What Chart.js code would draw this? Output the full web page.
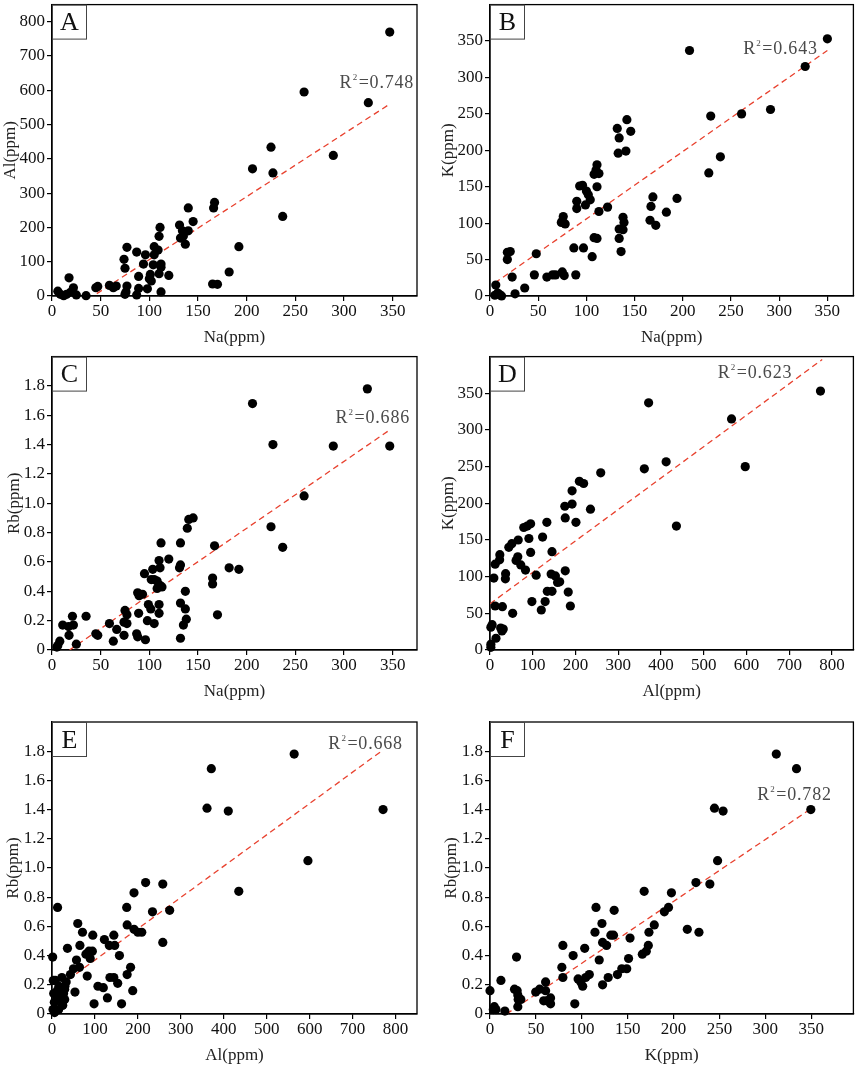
<!DOCTYPE html>
<html>
<head>
<meta charset="utf-8">
<script src="https://cdn.jsdelivr.net/npm/chart.js@4.4.0/dist/chart.umd.min.js"></script>
<style>
  body { margin: 0; background: #fff; }
  #wrap { position: relative; width: 858px; height: 1070px; overflow: hidden; }
  #wrap canvas { position: absolute; }
</style>
</head>
<body>
<div id="wrap">
  <canvas id="pA"></canvas><canvas id="pB"></canvas>
  <canvas id="pC"></canvas><canvas id="pD"></canvas>
  <canvas id="pE"></canvas><canvas id="pF"></canvas>
</div>
<script>
// tick values / labels
const naTicks = [0, 50, 100, 150, 200, 250, 300, 350];
const naTickLabels = ['0', '50', '100', '150', '200', '250', '300', '350'];
const alTicks = [0, 100, 200, 300, 400, 500, 600, 700, 800];
const alTickLabels = ['0', '100', '200', '300', '400', '500', '600', '700', '800'];
const kTicks = [0, 50, 100, 150, 200, 250, 300, 350];
const kTickLabels = ['0', '50', '100', '150', '200', '250', '300', '350'];
const rbTicks = [0, 0.2, 0.4, 0.6, 0.8, 1.0, 1.2, 1.4, 1.6, 1.8];
const rbTickLabels = ['0', '0.2', '0.4', '0.6', '0.8', '1.0', '1.2', '1.4', '1.6', '1.8'];

const panelLetters = ['A', 'B', 'C', 'D', 'E', 'F'];
const r2Values = ['0.748', '0.643', '0.686', '0.623', '0.668', '0.782'];

// A: Na vs Al
const aNa = [347,259,325,225,289,206,227,237,140,167,166,145,131,140,134,135,132,137,111,110,192,182,165,170,105,109,105,96,87,77,74,75,94,104,112,112,110,101,100,102,89,120,98,89,112,77,76,75,87,66,63,59,47,45,35,17.5,22,19,25,6,8.6,15,12];
const aAl = [770,595,564,434,410,371,359,232,257,273,257,217,207,190,190,175,169,151,200,174,144,70,35,34,144,134,120,120,128,142,107,81,93,91,93,84,65,63,50,44,57,60,21,22,12,29,12,5,3,29,24,31,28,24,1,53,24,11,3,14,5,5,1];
const aFitX = [46, 346], aFitY = [7, 558];

// B: Na vs K
const bNa = [350,207,327,291,261,229,239,227,142,146,132,134,141,133,111,110,113,108,111,96,93,100,102,104,99,90,90,113,122,169,167,194,183,166,172,138,139,138,134,134,136,76,75,78,74,87,97,106,108,111,18,21,18,48,23,46,59,65,68,75,77,89,36,26,6,8,10,12,5];
const bK = [353,337,315,256,250,247,191,169,242,226,230,217,199,196,180,173,168,167,150,152,151,144,139,132,125,130,120,116,122,136,123,134,115,104,97,108,101,91,92,79,61,109,103,99,101,66,66,54,80,79,60,61,50,58,26,29,26,29,29,33,28,29,11,3,15,4,2,0,1];
const bFitX = [5, 350], bFitY = [18, 337];

// C: Na vs Rb
const cNa = [324,206,227,289,347,259,225,237,167,182,192,165,165,170,145,140.5,139,132,112,110,120,111,132,131,103.5,95,105,102,108,111,108,113,137,88,93,89.5,99,110,132,101.5,137,110,89,98,105,138,135,132,96,75,77,77,74,74,87,88,66.5,59,63,45,47,35,21,22,11,17,17.5,25,8,6,5];
const cRb = [1.78,1.68,1.40,1.39,1.39,1.05,0.84,0.70,0.71,0.56,0.55,0.49,0.45,0.24,0.90,0.89,0.83,0.73,0.73,0.61,0.62,0.56,0.58,0.56,0.55,0.52,0.48,0.48,0.47,0.44,0.42,0.43,0.40,0.39,0.38,0.37,0.31,0.31,0.32,0.28,0.28,0.25,0.25,0.20,0.18,0.21,0.17,0.08,0.07,0.27,0.24,0.18,0.19,0.10,0.11,0.09,0.14,0.18,0.06,0.11,0.10,0.23,0.23,0.17,0.17,0.16,0.10,0.04,0.06,0.03,0.02];
const cFitX = [18, 347], cFitY = [0, 1.50];

// D: Al vs K
const dAl = [773,371,565,412,597,361,259,436,209,219,192,175,192,235,176,201,133,95,87,79,91,123,66,51,44,95,145,65,61,72,83,23,22.5,12,9,36.5,36,108,143,153,158,163,176,134,145,183,98,129,120,188,12,29,53,5,2,25,31,28,14,2,2];
const dK = [353,337,315,256.5,250,247,241.5,169,230,227,217,196,199,192,180,174,174,172,169,167,152,154,150,145,140,133,134,127,122,116,109,130,123,117,98,104,97,102,103.5,101,92,93,108,80,80,79,66,66,54.5,60,60,59,50,34.5,31,30,28.6,26,16,8,3.6];
const dFitX = [0, 777], dFitY = [63, 396];

// E: Al vs Rb
const eAl = [564,371,361,410.5,771,596,435,218,258,191,174,234,274,258,175,191,200,209,13,60,71,95,65,122,144,133.5,146,36,86,94,79,89,57,1.6,157,64,50,183,43,82,175,135,144,153,107,119.5,188,53.5,129,98,162,23,8,33,29.5,16,27,29.5,4,13,5.4,24,15.5,2.3,3,20,30,25,6,12];
const eRb = [1.78,1.68,1.41,1.39,1.40,1.05,0.84,0.90,0.89,0.83,0.73,0.70,0.71,0.49,0.61,0.58,0.56,0.56,0.73,0.62,0.56,0.54,0.47,0.51,0.54,0.47,0.47,0.45,0.43,0.43,0.41,0.38,0.37,0.39,0.40,0.32,0.31,0.32,0.27,0.26,0.27,0.25,0.25,0.21,0.19,0.18,0.16,0.15,0.11,0.07,0.07,0.25,0.23,0.22,0.17,0.19,0.14,0.10,0.14,0.10,0.08,0.06,0.03,0.03,0.23,0.12,0.19,0.06,0.01,0.16];
const eFitX = [0, 767], eFitY = [0.155, 1.80];

// F: K vs Rb
const fK = [312,334,244.6,254,349.6,248,168,224.4,239.6,197.7,194.5,190,135.3,115.5,179,215,227.7,173.2,122,114.4,131.7,134.6,152.6,122.7,127,172.5,170.3,166,103.2,79.4,90.6,119,151,28.9,78.3,143.6,149,138.9,108.2,104.3,128.8,79.4,96,98.9,101,122.7,60.6,54.1,49.8,60.6,58.5,62,66,66,92.4,11.9,26.7,29.6,30.3,30.7,33.6,30.3,0,4.7,6.5,3.6,16.2];
const fRb = [1.78,1.68,1.41,1.39,1.40,1.05,0.84,0.90,0.89,0.83,0.73,0.70,0.71,0.73,0.61,0.58,0.56,0.56,0.62,0.56,0.54,0.54,0.52,0.49,0.47,0.47,0.43,0.41,0.45,0.47,0.40,0.37,0.38,0.39,0.32,0.31,0.31,0.27,0.27,0.25,0.25,0.25,0.24,0.22,0.19,0.20,0.22,0.17,0.15,0.16,0.09,0.09,0.11,0.07,0.07,0.23,0.17,0.16,0.13,0.10,0.10,0.05,0.16,0.05,0.03,0.03,0.02];
const fFitX = [18, 346], fFitY = [0, 1.39];

const SERIF = '"Liberation Serif", "Times New Roman", serif';

// frame round the plot area, drawn under the points
const framePlugin = {
  id: 'frame',
  beforeDatasetsDraw(chart) {
    const { ctx, chartArea: a } = chart;
    ctx.save();
    ctx.strokeStyle = '#000';
    ctx.lineWidth = 1.3;
    ctx.strokeRect(a.left, a.top, a.right - a.left, a.bottom - a.top);
    ctx.restore();
  },
  afterDraw(chart, args, opts) {
    const { ctx, chartArea: a } = chart;
    ctx.save();
    // panel letter box
    ctx.strokeStyle = '#444';
    ctx.lineWidth = 1;
    ctx.strokeRect(a.left + 0.5, a.top + 0.5, 34, 34);
    ctx.fillStyle = '#111';
    ctx.font = '26px ' + SERIF;
    ctx.textAlign = 'center';
    ctx.textBaseline = 'middle';
    ctx.fillText(opts.letter, a.left + 17.5, a.top + 19);
    // R^2 label, right-aligned at a data position
    const xs = chart.scales.x, ys = chart.scales.y;
    const px = xs.getPixelForValue(opts.r2At[0]);
    const py = ys.getPixelForValue(opts.r2At[1]);
    const big = '18px ' + SERIF, small = '9px ' + SERIF;
    ctx.textAlign = 'left';
    ctx.textBaseline = 'alphabetic';
    ctx.fillStyle = '#4a4a4a';
    if ('letterSpacing' in ctx) ctx.letterSpacing = '0.8px';
    ctx.font = big;
    const wR = ctx.measureText('R').width;
    const wRest = ctx.measureText('=' + opts.r2).width;
    ctx.font = small;
    const w2 = ctx.measureText('2').width + 1;
    let x = px - (wR + w2 + wRest);
    ctx.font = big; ctx.fillText('R', x, py); x += wR;
    ctx.font = small; ctx.fillText('2', x + 0.3, py - 8); x += w2;
    ctx.font = big; ctx.fillText('=' + opts.r2, x, py);
    ctx.restore();
  }
};

function axis(min, max, ticks, labels, title, titlePad, fitSize, horizontal) {
  return {
    type: 'linear',
    min, max,
    afterBuildTicks: s => { s.ticks = ticks.map(v => ({ value: v })); },
    afterFit: s => {
      // fixed box sizes so every panel lines up; no extra label padding
      if (horizontal) { s.height = fitSize; s.paddingLeft = 0; s.paddingRight = 0; }
      else { s.width = fitSize; s.paddingTop = 0; s.paddingBottom = 0; }
    },
    grid: { display: true, drawOnChartArea: false, drawTicks: true, tickLength: 5, color: '#000', lineWidth: 1.2 },
    border: { display: true, color: '#000', width: 1.3 },
    ticks: {
      autoSkip: false, maxRotation: 0, minRotation: 0,
      padding: horizontal ? 0 : 2,
      color: '#111',
      font: { family: SERIF, size: 17 },
      callback: v => {
        const i = ticks.findIndex(t => Math.abs(t - v) < 1e-9);
        return i >= 0 ? labels[i] : '';
      }
    },
    title: {
      display: true, text: title, color: '#222',
      font: { family: SERIF, size: 17 },
      padding: horizontal ? { top: 0, bottom: titlePad } : { top: titlePad, bottom: 0 }
    }
  };
}

function makePanel(id, p) {
  const cv = document.getElementById(id);
  cv.width = p.w; cv.height = p.h;
  cv.style.left = p.left + 'px';
  cv.style.top = p.top + 'px';
  const pts = p.xs.map((x, i) => ({ x, y: p.ys[i] }));
  const fit = p.fitX.map((x, i) => ({ x, y: p.fitY[i] }));
  return new Chart(cv, {
    type: 'scatter',
    data: {
      datasets: [
        { data: pts, backgroundColor: '#000', borderWidth: 0, pointRadius: 4.6, clip: false },
        { type: 'line', data: fit, borderColor: '#e8412e', borderDash: [6, 4], borderWidth: 1.3, pointRadius: 0, fill: false }
      ]
    },
    options: {
      responsive: false, animation: false, events: [],
      layout: { padding: { left: 0, top: p.padTop, right: p.padRight, bottom: 0 } },
      plugins: {
        legend: { display: false }, tooltip: { enabled: false },
        frame: { letter: p.letter, r2: p.r2, r2At: p.r2At }
      },
      scales: {
        x: axis(0, p.xMax, p.xTicks, p.xLabels, p.xTitle, p.xH - 42 - 10.2, p.xH, true),
        y: axis(0, p.yMax, p.yTicks, p.yLabels, p.yTitle, p.yTitlePad, p.yW, false)
      }
    },
    plugins: [framePlugin]
  });
}

// layout: two columns, three rows
const colL = { left: 0, w: 429, yW: 52, padRight: 12 };
const colR = { left: 429, w: 429, yW: 61, padRight: 3 };
const row1 = { top: 0, h: 352, padTop: 2, xH: 56 };
const row2 = { top: 352, h: 363, padTop: 4, xH: 65 };
const row3 = { top: 715, h: 355, padTop: 7, xH: 56 };

makePanel('pA', { ...colL, ...row1, xs: aNa, ys: aAl, fitX: aFitX, fitY: aFitY,
  xMax: 375, xTicks: naTicks, xLabels: naTickLabels, xTitle: 'Na(ppm)',
  yMax: 850, yTicks: alTicks, yLabels: alTickLabels, yTitle: 'Al(ppm)', yTitlePad: 0,
  letter: panelLetters[0], r2: r2Values[0], r2At: [372, 606] });

makePanel('pB', { ...colR, ...row1, xs: bNa, ys: bK, fitX: bFitX, fitY: bFitY,
  xMax: 377, xTicks: naTicks, xLabels: naTickLabels, xTitle: 'Na(ppm)',
  yMax: 400, yTicks: kTicks, yLabels: kTickLabels, yTitle: 'K(ppm)', yTitlePad: 9,
  letter: panelLetters[1], r2: r2Values[1], r2At: [340, 332] });

makePanel('pC', { ...colL, ...row2, xs: cNa, ys: cRb, fitX: cFitX, fitY: cFitY,
  xMax: 375, xTicks: naTicks, xLabels: naTickLabels, xTitle: 'Na(ppm)',
  yMax: 2.0, yTicks: rbTicks, yLabels: rbTickLabels, yTitle: 'Rb(ppm)', yTitlePad: 4,
  letter: panelLetters[2], r2: r2Values[2], r2At: [367.8, 1.548] });

makePanel('pD', { ...colR, ...row2, xs: dAl, ys: dK, fitX: dFitX, fitY: dFitY,
  xMax: 850, xTicks: alTicks, xLabels: alTickLabels, xTitle: 'Al(ppm)',
  yMax: 400, yTicks: kTicks, yLabels: kTickLabels, yTitle: 'K(ppm)', yTitlePad: 9,
  letter: panelLetters[3], r2: r2Values[3], r2At: [707, 371] });

makePanel('pE', { ...colL, ...row3, xs: eAl, ys: eRb, fitX: eFitX, fitY: eFitY,
  xMax: 850, xTicks: alTicks, xLabels: alTickLabels, xTitle: 'Al(ppm)',
  yMax: 2.0, yTicks: rbTicks, yLabels: rbTickLabels, yTitle: 'Rb(ppm)', yTitlePad: 3.5,
  letter: panelLetters[4], r2: r2Values[4], r2At: [817, 1.816] });

makePanel('pF', { ...colR, ...row3, xs: fK, ys: fRb, fitX: fFitX, fitY: fFitY,
  xMax: 396, xTicks: kTicks, xLabels: kTickLabels, xTitle: 'K(ppm)',
  yMax: 2.0, yTicks: rbTicks, yLabels: rbTickLabels, yTitle: 'Rb(ppm)', yTitlePad: 12.5,
  letter: panelLetters[5], r2: r2Values[5], r2At: [372.4, 1.468] });
</script>
</body>
</html>
